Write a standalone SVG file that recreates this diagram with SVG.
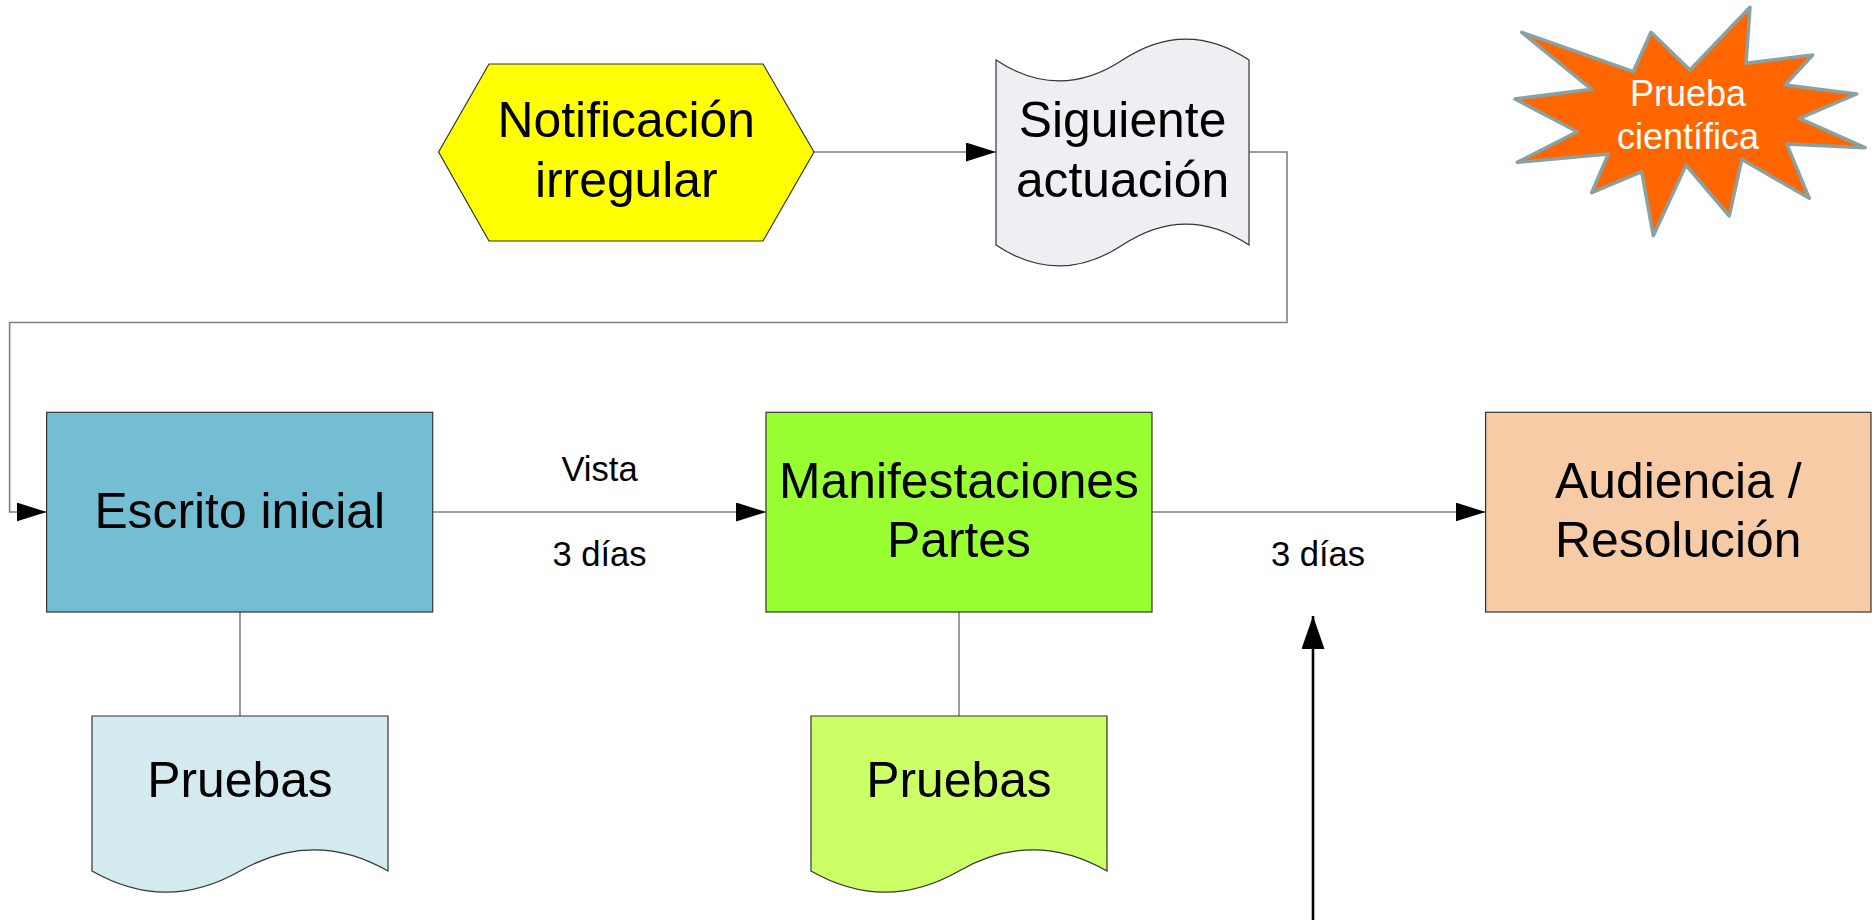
<svg xmlns="http://www.w3.org/2000/svg" width="1874" height="922" viewBox="0 0 1874 922">
<style>
  .t { font-family: "Liberation Sans", Arial, sans-serif; fill: #000; text-anchor: middle; }
  .big { font-size: 49.8px; }
  .lbl { font-size: 34.6px; }
  .star { font-size: 36px; fill: #fff; }
  .node { stroke: #333; stroke-width: 1.2; }
  .conn { fill: none; stroke: #7f7f7f; stroke-width: 1.6; }
  .link { fill: none; stroke: #666; stroke-width: 1.3; }
</style>
<defs>
  <marker id="arr" markerUnits="userSpaceOnUse" markerWidth="30" markerHeight="19" refX="30" refY="9.5" orient="auto">
    <path d="M0,0 L30,9.5 L0,19 Z" fill="#000"/>
  </marker>
  <marker id="arrUp" markerUnits="userSpaceOnUse" markerWidth="33" markerHeight="23" refX="33" refY="11.5" orient="auto">
    <path d="M0,0 L33,11.5 L0,23 Z" fill="#000"/>
  </marker>
</defs>
<rect width="1874" height="922" fill="#fff"/>

<g id="connectors">
  <path class="conn" d="M814,152 H996" marker-end="url(#arr)"/>
  <path class="conn" d="M1249,152 H1287 V322.5 H9.6 V512 H46.6" marker-end="url(#arr)"/>
  <path class="conn" d="M432.7,512 H766" marker-end="url(#arr)"/>
  <path class="conn" d="M1152,512 H1485.6" marker-end="url(#arr)"/>
  <path class="link" d="M240,612 V716"/>
  <path class="link" d="M959,612 V716"/>
  <path d="M1313,920 V616" fill="none" stroke="#000" stroke-width="2.6" marker-end="url(#arrUp)"/>
  <text class="t lbl" x="599.5" y="480.5">Vista</text>
  <text class="t lbl" x="599.5" y="565.5">3 días</text>
  <text class="t lbl" x="1318" y="565.5">3 días</text>
</g>

<g id="notificacion">
  <polygon class="node" points="438.6,152 489,64 763,64 814,152 763,241 489,241" fill="#ffff00"/>
  <text class="t big" x="626.3" y="137">Notificación</text>
  <text class="t big" x="626.3" y="196.5">irregular</text>
</g>

<g id="siguiente">
  <path class="node" d="M996,60 C1038,88 1080,88 1122.5,60 C1165,32 1207,32 1249,60 L1249,245 C1207,217 1165,217 1122.5,245 C1080,273 1038,273 996,245 Z" fill="#efeef3"/>
  <text class="t big" x="1122.5" y="137">Siguiente</text>
  <text class="t big" x="1122.5" y="196.5">actuación</text>
</g>

<g id="prueba-cientifica">
  <polygon points="1521.7,32.3 1633.3,71.7 1651,32.3 1690,70 1750,7.3 1746,63.3 1812.7,55 1785,85 1856.7,94 1799.3,118.3 1865,147.7 1786.7,144 1809.3,198.3 1741.7,159.3 1729.3,216 1686,165 1653.3,235.7 1641.7,171.7 1591.7,192.7 1608.3,154 1517.3,162.3 1577.3,131.7 1515,99 1591.7,89.3" fill="#ff6600" stroke="#8aa1a1" stroke-width="3.5" stroke-linejoin="round"/>
  <text class="t star" x="1688" y="106">Prueba</text>
  <text class="t star" x="1688" y="149.3">científica</text>
</g>

<g id="escrito">
  <rect class="node" x="46.6" y="412.3" width="386.1" height="199.7" fill="#73bed2"/>
  <text class="t big" x="239.7" y="527.7">Escrito inicial</text>
</g>

<g id="manifestaciones">
  <rect class="node" x="766" y="412.3" width="386" height="199.7" fill="#99ff33"/>
  <text class="t big" x="959" y="497.7">Manifestaciones</text>
  <text class="t big" x="959" y="556.7">Partes</text>
</g>

<g id="audiencia">
  <rect class="node" x="1485.6" y="412.3" width="385.4" height="199.7" fill="#f8cba7"/>
  <text class="t big" x="1678.3" y="497.7">Audiencia /</text>
  <text class="t big" x="1678.3" y="556.7">Resolución</text>
</g>

<g id="pruebas1">
  <path class="node" d="M92,716 L388,716 L388,871 C339,843 289,843 240,871 C191,899 141,899 92,871 Z" fill="#d2eaf0"/>
  <text class="t big" x="240" y="796.7">Pruebas</text>
</g>

<g id="pruebas2">
  <path class="node" d="M811,716 L1107,716 L1107,871 C1058,843 1008,843 959,871 C910,899 860,899 811,871 Z" fill="#ccff66"/>
  <text class="t big" x="959" y="796.7">Pruebas</text>
</g>
</svg>
